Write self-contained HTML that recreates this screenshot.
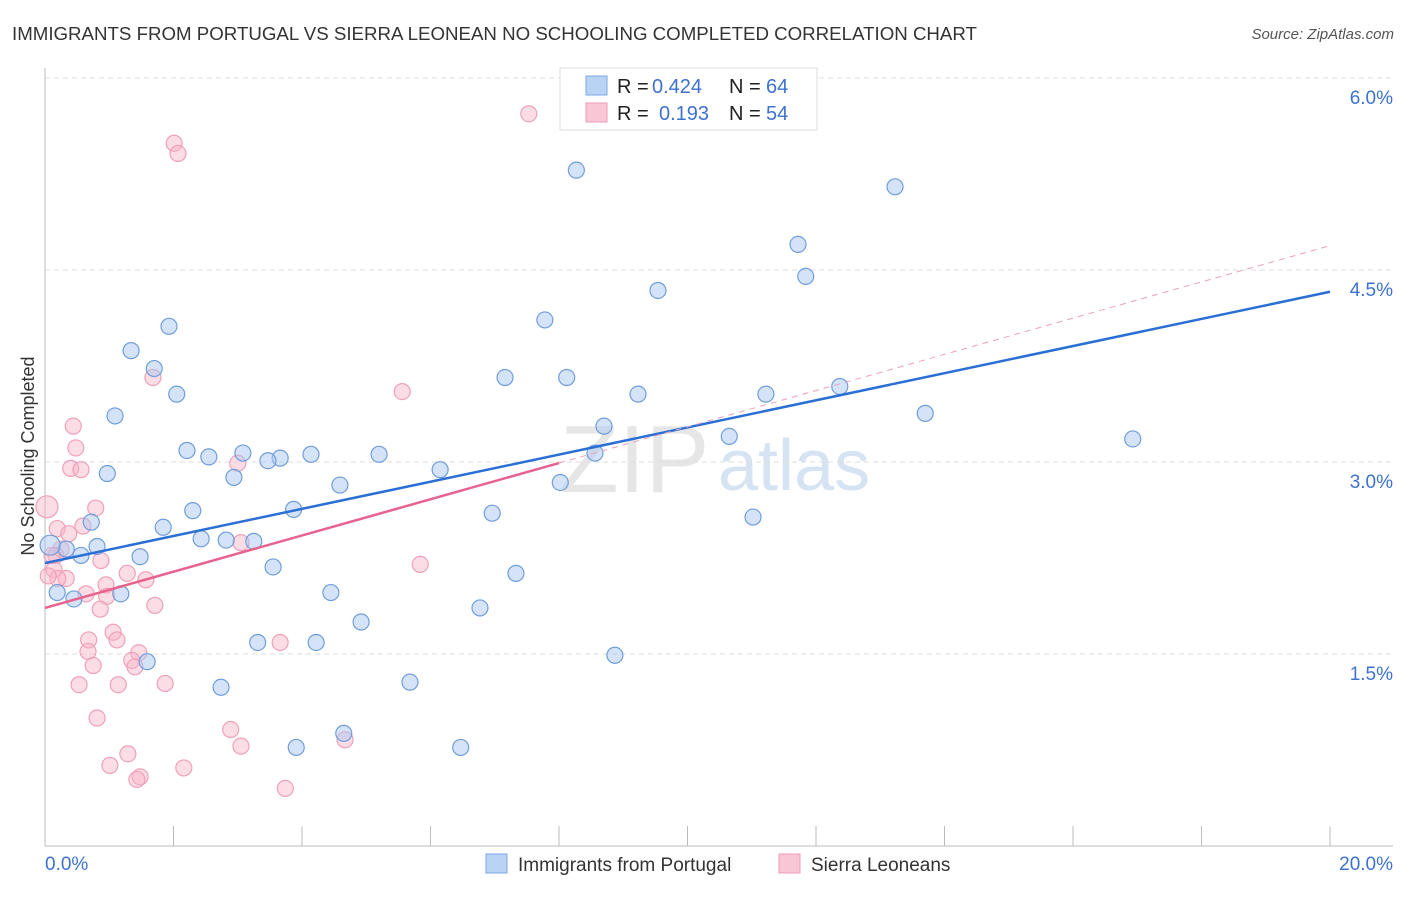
<!DOCTYPE html>
<html><head><meta charset="utf-8"><style>
body{margin:0;background:#fff;font-family:"Liberation Sans",sans-serif;}
svg text{font-family:"Liberation Sans",sans-serif;}
</style></head><body>
<svg id="chart" width="1406" height="892">
<text x="12" y="40" font-size="18.7" fill="#333">IMMIGRANTS FROM PORTUGAL VS SIERRA LEONEAN NO SCHOOLING COMPLETED CORRELATION CHART</text>
<text x="1394" y="39" font-size="15" fill="#555" font-style="italic" text-anchor="end">Source: ZipAtlas.com</text>
<text x="34" y="456" font-size="18" fill="#333" text-anchor="middle" transform="rotate(-90 34 456)">No Schooling Completed</text>
<text x="560" y="492" font-size="96" fill="#e6e6e6" font-family="Liberation Serif">ZIP</text>
<text x="718" y="490" font-size="72" fill="#d6e3f3">atlas</text>
<g id="grid"></g><g id="axes"></g><g id="pts"></g><g id="lines"></g>
<g>
<rect x="560" y="68" width="257" height="62" fill="#fff" stroke="#ddd"/>
<rect x="586" y="76" width="21" height="19" fill="#b9d3f5" stroke="#7ba7e3"/>
<rect x="586" y="103" width="21" height="19" fill="#f9c6d5" stroke="#ef9bb5"/>
<text y="93" font-size="20" fill="#222"><tspan x="617">R =</tspan><tspan x="652" fill="#3d72d0">0.424</tspan><tspan x="729">N =</tspan><tspan x="766" fill="#3d72d0">64</tspan></text>
<text y="120" font-size="20" fill="#222"><tspan x="617">R =</tspan><tspan x="659" fill="#3d72d0">0.193</tspan><tspan x="729">N =</tspan><tspan x="766" fill="#3d72d0">54</tspan></text>
</g>
<g>
<rect x="486" y="854" width="21" height="19" fill="#b9d3f5" stroke="#7ba7e3"/>
<text x="518" y="871" font-size="19" fill="#333">Immigrants from Portugal</text>
<rect x="779" y="854" width="21" height="19" fill="#f9c6d5" stroke="#ef9bb5"/>
<text x="811" y="871" font-size="19" fill="#333">Sierra Leoneans</text>
</g>
</svg>
<script>
const yTicks=[1.5,3.0,4.5,6.0];
const yTickLabels=["1.5%","3.0%","4.5%","6.0%"];
const xEnds=[0,20];
const xEndLabels=["0.0%","20.0%"];
const blueX=[8.27,13.23,11.72,11.84,9.54,7.78,1.93,1.34,1.70,7.16,8.12,2.05,9.23,11.22,12.37,1.09,13.70,8.70,10.65,16.93,2.21,3.08,2.55,4.14,5.20,3.66,3.47,8.56,0.97,2.94,6.15,4.59,8.02,2.30,3.87,6.96,0.72,1.84,11.02,2.43,2.82,3.25,0.81,0.33,0.56,1.48,3.55,7.33,4.45,0.19,1.18,0.45,6.77,4.92,3.31,4.22,8.87,1.59,5.68,2.74,4.65,3.91,6.47,0.08];
const blueY=[5.28,5.15,4.70,4.45,4.34,4.11,4.06,3.87,3.73,3.66,3.66,3.53,3.53,3.53,3.59,3.36,3.38,3.28,3.20,3.18,3.09,3.07,3.04,3.06,3.06,3.03,3.01,3.07,2.91,2.88,2.94,2.82,2.84,2.62,2.63,2.60,2.53,2.49,2.57,2.40,2.39,2.38,2.34,2.32,2.27,2.26,2.18,2.13,1.98,1.98,1.97,1.93,1.86,1.75,1.59,1.59,1.49,1.44,1.28,1.24,0.88,0.77,0.77,2.35];
const pinkX=[7.53,2.01,2.07,1.68,5.56,0.44,0.48,3.00,0.40,0.56,0.79,0.03,0.19,0.59,0.37,0.25,0.17,0.87,0.14,1.28,0.33,0.20,0.95,1.57,0.64,0.96,1.71,0.86,5.84,3.05,1.06,0.68,1.12,0.67,1.46,1.35,1.40,0.75,0.53,1.14,1.87,3.66,0.81,2.89,3.05,1.29,1.01,2.16,1.48,1.43,4.67,3.74,0.05,0.11];
const pinkY=[5.72,5.49,5.41,3.66,3.55,3.28,3.11,2.99,2.95,2.94,2.64,2.65,2.48,2.50,2.44,2.32,2.27,2.23,2.16,2.13,2.09,2.09,2.04,2.08,1.97,1.95,1.88,1.85,2.20,2.37,1.67,1.61,1.61,1.52,1.51,1.45,1.40,1.41,1.26,1.26,1.27,1.59,1.00,0.91,0.78,0.72,0.63,0.61,0.54,0.52,0.83,0.45,2.11,2.27];
const pinkR=[8,8,8,8,8,8,8,8,8,8,8,11,8,8,8,8,8,8,8,8,8,8,8,8,8,8,8,8,8,8,8,8,8,8,8,8,8,8,8,8,8,8,8,8,8,8,8,8,8,8,8,8,8,8];
const blueTrend=[2.21,4.33];
const pinkTrend=[1.86,4.69];
const pinkSolidEnd=8;
const NS="http://www.w3.org/2000/svg";
const X=v=>45+v/20*1285, Y=v=>846-v/6*768;
function mk(p,t,a){const e=document.createElementNS(NS,t);for(const k in a)e.setAttribute(k,a[k]);p.appendChild(e);return e;}
const grid=document.getElementById('grid'),axes=document.getElementById('axes');
yTicks.forEach((t,i)=>{
 const l=mk(grid,'line',{x1:45,x2:1393,y1:Y(t),y2:Y(t),stroke:'#ddd','stroke-dasharray':'5,4'});
 
 
 const tx=mk(axes,'text',{x:1393,y:Y(t)+26,'font-size':19,fill:'#3d72d0','text-anchor':'end'});tx.textContent=yTickLabels[i];
 
 
});
const ax=mk(axes,'line',{x1:45,x2:45,y1:68,y2:846,stroke:'#bbb'});


const bx=mk(axes,'line',{x1:45,x2:1393,y1:846,y2:846,stroke:'#bbb'});


for(let i=0;i<=10;i++){const tk=mk(axes,'line',{x1:X(i*2),x2:X(i*2),y1:826,y2:846,stroke:'#bbb'});
 
 }
xEnds.forEach((v,i)=>{const t=mk(axes,'text',{x:i?1393:45,y:870,'font-size':19,fill:'#3d72d0','text-anchor':i?'end':'start'});t.textContent=xEndLabels[i];
 
 });
const pts=document.getElementById('pts');
pinkX.forEach((v,i)=>{const c=mk(pts,'circle',{cx:X(v),cy:Y(pinkY[i]),r:pinkR[i],fill:'rgba(248,180,200,0.45)',stroke:'#f0a0b8','stroke-width':1.2});
 
 });
blueX.forEach((v,i)=>{const c=mk(pts,'circle',{cx:X(v),cy:Y(blueY[i]),r:i==63?10:8,fill:'rgba(170,200,240,0.5)',stroke:'#6f9edc','stroke-width':1.2});
 
 });
const lines=document.getElementById('lines');
const pAt=v=>pinkTrend[0]+(pinkTrend[1]-pinkTrend[0])*v/20;
const l1=mk(lines,'line',{x1:X(0),y1:Y(blueTrend[0]),x2:X(20),y2:Y(blueTrend[1]),stroke:'#2a6fd6','stroke-width':2.5});


const l2=mk(lines,'line',{x1:X(0),y1:Y(pAt(0)),x2:X(pinkSolidEnd),y2:Y(pAt(pinkSolidEnd)),stroke:'#e8628e','stroke-width':2.5});


const l3=mk(lines,'line',{x1:X(pinkSolidEnd),y1:Y(pAt(pinkSolidEnd)),x2:X(20),y2:Y(pAt(20)),stroke:'#eda0b8','stroke-width':1,'stroke-dasharray':'6,5'});


</script>
</body></html>
